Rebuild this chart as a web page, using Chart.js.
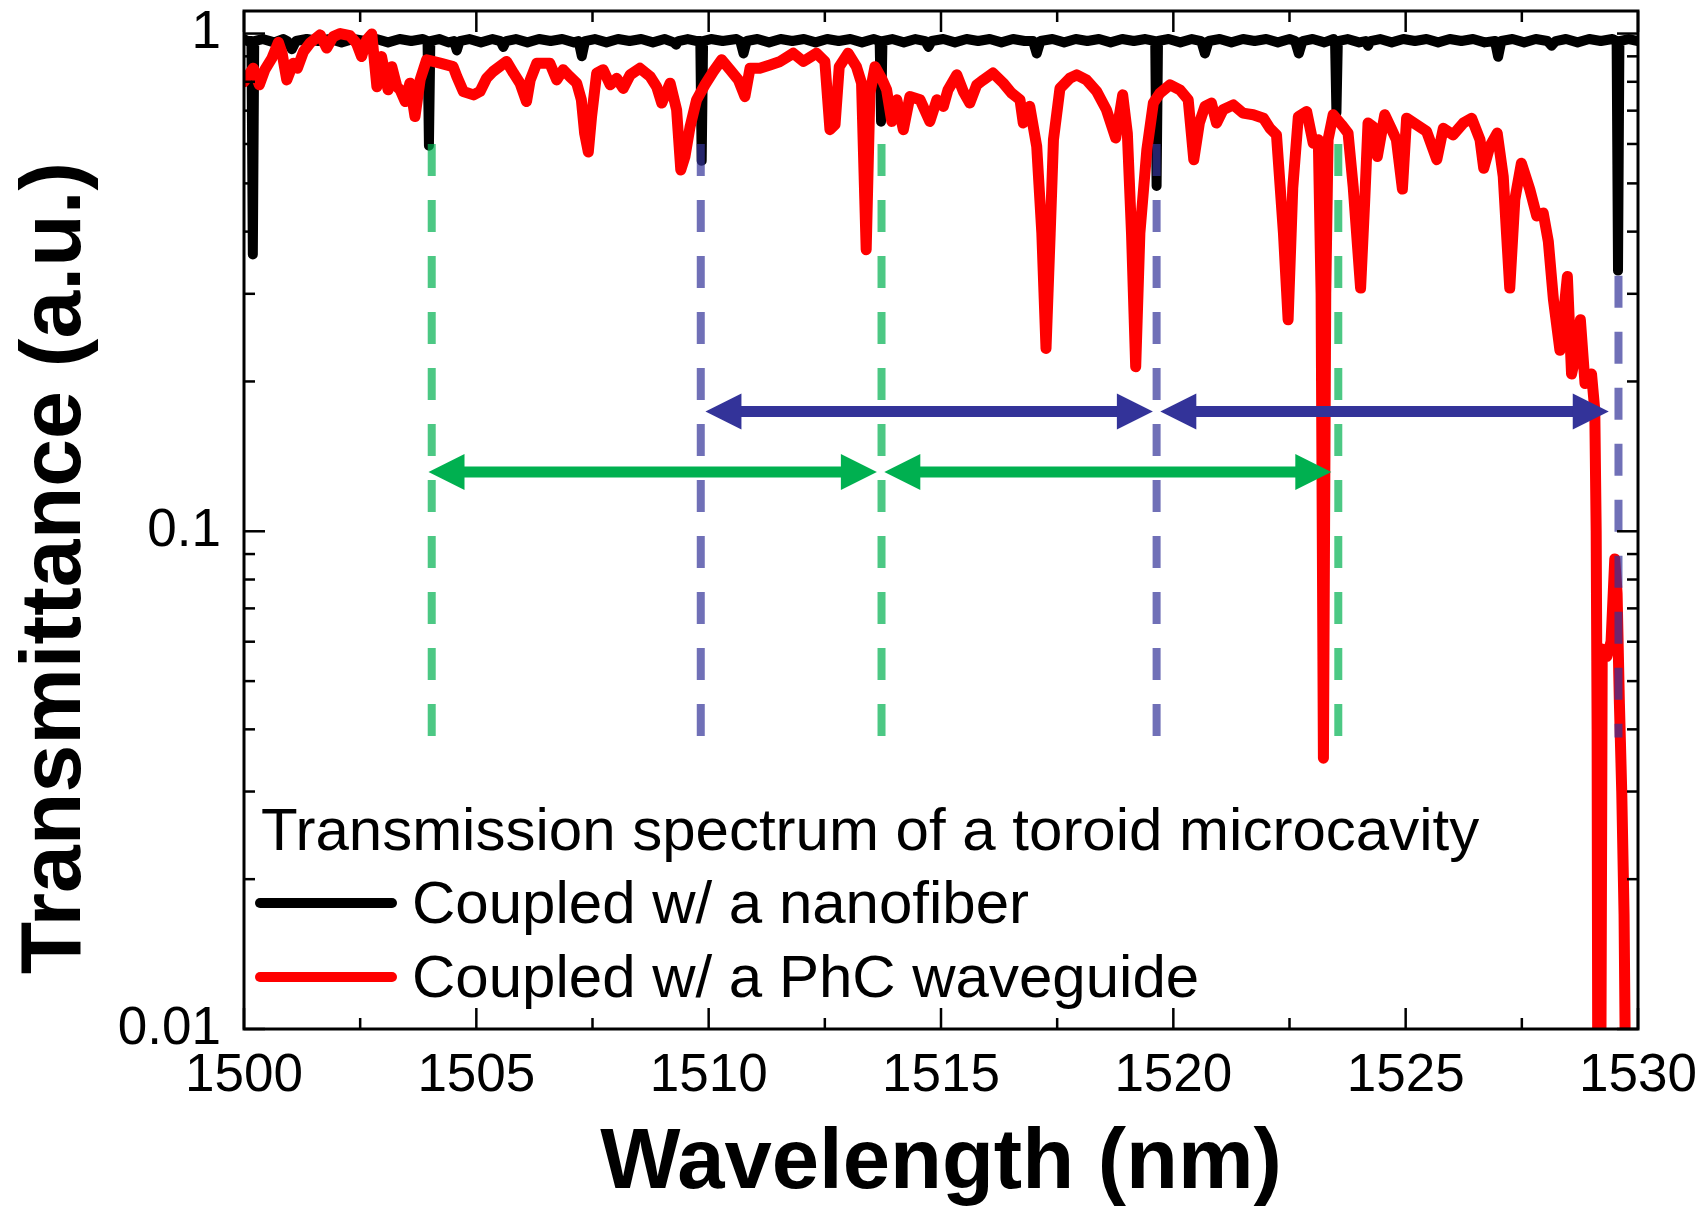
<!DOCTYPE html>
<html>
<head>
<meta charset="utf-8">
<script src="https://cdn.jsdelivr.net/npm/chart.js@4.4.1/dist/chart.umd.min.js"></script>
<style>
html,body{margin:0;padding:0;background:#ffffff;}
canvas{display:block;}
</style>
</head>
<body>
<canvas id="chart" width="1706" height="1207"></canvas>
<script>
// ---------------- DATA ----------------
const legendTitle = 'Transmission spectrum of a toroid microcavity';
const xAxisTitle = 'Wavelength (nm)';
const yAxisTitle = 'Transmittance (a.u.)';

// Coupled w/ a nanofiber (black)
const wavelengthNanofiber = [
  1500.00,1500.08,1500.16,1500.19,1500.22,1500.40,1500.65,1500.85,1500.93,1501.03,1501.12,
  1501.35,1501.60,1501.85,1502.10,1502.35,1502.60,1502.85,1503.10,1503.35,1503.60,1503.85,
  1503.95,1503.98,1504.01,
  1504.20,1504.40,1504.52,1504.58,1504.64,1504.85,1505.10,1505.35,1505.52,1505.58,1505.64,
  1505.85,1506.10,1506.35,1506.60,1506.85,1507.10,1507.20,1507.27,1507.34,1507.55,1507.80,
  1508.05,1508.30,1508.55,1508.80,1509.05,1509.25,1509.30,1509.35,1509.55,1509.75,
  1509.82,1509.85,1509.88,
  1510.05,1510.30,1510.60,1510.68,1510.75,1510.82,1511.05,1511.30,1511.55,1511.80,1512.05,
  1512.30,1512.55,1512.80,1513.05,1513.30,1513.55,
  1513.68,1513.71,1513.74,
  1513.95,1514.20,1514.45,1514.66,1514.73,1514.80,1515.05,1515.30,1515.55,1515.80,1516.05,
  1516.30,1516.55,1516.80,1516.98,1517.06,1517.14,1517.40,1517.65,1517.90,1518.15,1518.40,
  1518.65,1518.90,1519.15,1519.40,
  1519.61,1519.64,1519.67,
  1519.90,1520.15,1520.40,1520.60,1520.68,1520.76,1521.00,1521.25,1521.50,1521.75,1522.00,
  1522.25,1522.50,1522.62,1522.70,1522.78,1523.00,1523.25,1523.45,
  1523.48,1523.51,1523.54,
  1523.75,1524.00,1524.14,1524.19,1524.24,1524.45,1524.70,1524.95,1525.20,1525.45,1525.70,
  1525.95,1526.20,1526.45,1526.70,1526.92,1526.99,1527.06,1527.30,1527.55,1527.80,1528.05,
  1528.14,1528.23,1528.45,1528.70,1528.95,1529.20,1529.45,
  1529.54,1529.57,1529.60,
  1529.80,1530.00
];
const transNanofiber = [
  0.975,0.966,0.966,0.360,0.966,0.975,0.960,0.975,0.966,0.930,0.966,
  0.975,0.966,0.975,0.960,0.975,0.966,0.975,0.960,0.975,0.966,0.975,
  0.966,0.595,0.966,
  0.975,0.960,0.966,0.925,0.966,0.975,0.960,0.975,0.966,0.940,0.966,
  0.975,0.960,0.975,0.966,0.975,0.960,0.966,0.900,0.966,0.975,0.960,
  0.975,0.966,0.975,0.960,0.975,0.960,0.950,0.966,0.975,0.966,
  0.966,0.555,0.966,
  0.975,0.966,0.975,0.966,0.912,0.966,0.975,0.960,0.975,0.966,0.975,
  0.960,0.975,0.966,0.975,0.960,0.975,
  0.966,0.665,0.966,
  0.975,0.960,0.975,0.966,0.940,0.966,0.975,0.960,0.975,0.966,0.975,
  0.960,0.975,0.966,0.966,0.912,0.966,0.975,0.960,0.975,0.966,0.975,
  0.960,0.975,0.966,0.975,
  0.966,0.494,0.966,
  0.975,0.960,0.975,0.966,0.912,0.966,0.975,0.960,0.975,0.966,0.975,
  0.960,0.975,0.966,0.912,0.966,0.975,0.960,0.975,
  0.966,0.693,0.966,
  0.975,0.960,0.966,0.945,0.966,0.975,0.960,0.975,0.966,0.975,0.960,
  0.975,0.966,0.975,0.960,0.966,0.898,0.966,0.975,0.960,0.975,0.966,
  0.945,0.966,0.975,0.960,0.975,0.966,0.975,
  0.966,0.334,0.966,
  0.975,0.966
];

// Coupled w/ a PhC waveguide (red)
const wavelengthPhC = [
  1500.00,1500.20,1500.33,1500.45,1500.60,1500.74,1500.82,1500.92,1501.06,1501.15,1501.28,
  1501.42,1501.64,1501.78,1501.92,1502.07,1502.28,1502.42,1502.53,1502.64,1502.75,1502.86,
  1502.96,1503.10,1503.18,1503.29,1503.36,1503.47,1503.57,1503.68,1503.79,1503.93,1504.22,
  1504.50,1504.58,1504.72,1504.94,1505.08,1505.22,1505.36,1505.65,1505.80,1505.94,1506.08,
  1506.16,1506.30,1506.58,1506.73,1506.87,1507.01,1507.16,1507.26,1507.33,1507.41,1507.48,
  1507.59,1507.73,1507.88,1508.02,1508.16,1508.31,1508.52,1508.74,1508.88,1508.99,1509.17,
  1509.31,1509.40,1509.49,1509.60,1509.74,1509.92,1510.10,1510.28,1510.46,1510.64,1510.78,
  1510.89,1511.10,1511.32,1511.54,1511.82,1512.04,1512.32,1512.50,1512.61,1512.72,1512.81,
  1513.00,1513.18,1513.29,1513.39,1513.47,1513.58,1513.72,1513.83,1513.94,1514.05,1514.19,
  1514.33,1514.55,1514.76,1514.91,1515.05,1515.15,1515.34,1515.48,1515.62,1515.77,1515.91,
  1516.12,1516.34,1516.52,1516.70,1516.77,1516.91,1517.06,1517.17,1517.26,1517.35,1517.42,
  1517.56,1517.77,1517.92,1518.13,1518.35,1518.56,1518.76,1518.91,1519.01,1519.10,1519.19,
  1519.28,1519.43,1519.57,1519.71,1519.93,1520.14,1520.32,1520.44,1520.56,1520.68,1520.82,
  1520.93,1521.07,1521.29,1521.50,1521.72,1521.94,1522.08,1522.22,1522.37,1522.47,1522.57,
  1522.69,1522.87,1523.01,1523.12,1523.18,1523.23,1523.28,1523.33,1523.44,1523.62,1523.76,
  1523.87,1524.03,1524.12,1524.19,1524.30,1524.39,1524.55,1524.70,1524.80,1524.93,1525.02,
  1525.23,1525.45,1525.67,1525.81,1526.02,1526.24,1526.42,1526.60,1526.68,1526.81,1526.97,
  1527.10,1527.17,1527.24,1527.35,1527.49,1527.67,1527.82,1527.96,1528.07,1528.18,1528.32,
  1528.48,1528.57,1528.68,1528.76,1528.86,1529.00,1529.07,1529.10,1529.12,1529.14,1529.19,
  1529.23,1529.33,1529.42,1529.50,1529.55,1529.60,1529.65,1529.70,1529.76
];
const transPhC = [
  0.800,0.852,0.789,0.846,0.892,0.960,0.913,0.807,0.872,0.852,0.920,
  0.957,0.994,0.935,0.986,1.000,0.990,0.957,0.899,0.971,0.998,0.782,
  0.899,0.771,0.858,0.782,0.771,0.730,0.795,0.681,0.807,0.886,0.872,
  0.858,0.820,0.765,0.753,0.765,0.813,0.839,0.879,0.833,0.795,0.730,
  0.807,0.872,0.872,0.807,0.846,0.820,0.795,0.736,0.631,0.578,0.681,
  0.833,0.846,0.789,0.813,0.776,0.826,0.852,0.820,0.782,0.725,0.795,
  0.703,0.532,0.566,0.650,0.736,0.789,0.839,0.886,0.846,0.807,0.747,
  0.852,0.852,0.865,0.879,0.913,0.879,0.913,0.879,0.641,0.656,0.858,
  0.913,0.858,0.795,0.368,0.759,0.858,0.813,0.771,0.666,0.736,0.641,
  0.747,0.736,0.666,0.736,0.714,0.770,0.826,0.765,0.725,0.789,0.807,
  0.833,0.795,0.759,0.736,0.661,0.714,0.593,0.397,0.233,0.397,0.612,
  0.776,0.813,0.826,0.807,0.765,0.703,0.617,0.753,0.631,0.397,0.214,
  0.397,0.584,0.725,0.759,0.789,0.771,0.736,0.558,0.661,0.714,0.725,
  0.661,0.703,0.719,0.692,0.687,0.676,0.645,0.626,0.397,0.266,0.489,
  0.681,0.697,0.602,0.612,0.300,0.035,0.300,0.612,0.687,0.656,0.631,
  0.493,0.308,0.464,0.661,0.650,0.566,0.687,0.641,0.612,0.487,0.676,
  0.656,0.636,0.558,0.645,0.626,0.661,0.676,0.612,0.536,0.593,0.631,
  0.516,0.397,0.308,0.464,0.549,0.487,0.430,0.436,0.382,0.292,0.231,
  0.325,0.207,0.231,0.266,0.198,0.207,0.175,0.100,0.040,0.004,0.004,
  0.058,0.056,0.060,0.088,0.075,0.045,0.030,0.017,0.004
];

// Axis ticks
const xTickValues = [1500,1502.5,1505,1507.5,1510,1512.5,1515,1517.5,1520,1522.5,1525,1527.5,1530];
const xTickLabels = ['1500','','1505','','1510','','1515','','1520','','1525','','1530'];
const yTickValues = [0.01,0.02,0.03,0.04,0.05,0.06,0.07,0.08,0.09,0.1,0.2,0.3,0.4,0.5,0.6,0.7,0.8,0.9,1];
const yTickLabels = ['0.01','','','','','','','','','0.1','','','','','','','','','1'];

// FSR markers (dashed guide lines)
const greenDashX = [1504.04, 1513.72, 1523.55];
const greenDashTop = [0.6, 0.6, 0.6];
const blueDashX = [1509.83, 1519.64, 1529.58];
const blueDashTop = [0.6, 0.6, 0.326];
const dashBottom = 0.0385;

// FSR arrows
const blueArrowFrom = [1509.93, 1519.72];
const blueArrowTo = [1519.56, 1529.37];
const blueArrowLevel = 0.174;
const greenArrowFrom = [1503.97, 1513.78];
const greenArrowTo = [1513.62, 1523.40];
const greenArrowLevel = 0.1315;

// ---------------- CHART ----------------
const FONT = "'Liberation Sans', Arial, Helvetica, sans-serif";
const BLUE = '#333399', BLUE_T = 'rgba(51,51,153,0.7)';
const GREEN = '#00b050', GREEN_T = 'rgba(0,176,80,0.7)';
const pts = (xs, ys) => xs.map((x, i) => ({x: x, y: ys[i]}));

const datasets = [];
blueDashX.forEach((x, i) => datasets.push({
  label: 'blue guide ' + (i + 1),
  data: [{x: x, y: blueDashTop[i]}, {x: x, y: dashBottom}],
  borderColor: BLUE_T, borderWidth: 8, borderDash: [32, 24], borderCapStyle: 'butt',
  pointRadius: 0, order: -1, clip: 0
}));
greenDashX.forEach((x, i) => datasets.push({
  label: 'green guide ' + (i + 1),
  data: [{x: x, y: greenDashTop[i]}, {x: x, y: dashBottom}],
  borderColor: GREEN_T, borderWidth: 8, borderDash: [32, 24], borderCapStyle: 'butt',
  pointRadius: 0, order: -1, clip: 0
}));
datasets.push({
  label: 'Coupled w/ a PhC waveguide',
  data: pts(wavelengthPhC, transPhC),
  borderColor: '#ff0000', backgroundColor: '#ff0000', borderWidth: 11,
  borderJoinStyle: 'round', borderCapStyle: 'round', tension: 0,
  pointRadius: 0, order: 0, clip: 0
});
datasets.push({
  label: 'Coupled w/ a nanofiber',
  data: pts(wavelengthNanofiber, transNanofiber),
  borderColor: '#000000', backgroundColor: '#000000', borderWidth: 10,
  borderJoinStyle: 'round', borderCapStyle: 'round', tension: 0,
  pointRadius: 0, order: 1, clip: 0
});

function drawArrow(ctx, xa, xb, y, color) {
  const head = 36, half = 18;
  ctx.strokeStyle = color; ctx.fillStyle = color; ctx.lineWidth = 11; ctx.lineCap = 'butt';
  ctx.beginPath(); ctx.moveTo(xa + head - 2, y); ctx.lineTo(xb - head + 2, y); ctx.stroke();
  ctx.beginPath(); ctx.moveTo(xa, y); ctx.lineTo(xa + head, y - half); ctx.lineTo(xa + head, y + half); ctx.closePath(); ctx.fill();
  ctx.beginPath(); ctx.moveTo(xb, y); ctx.lineTo(xb - head, y - half); ctx.lineTo(xb - head, y + half); ctx.closePath(); ctx.fill();
}

const decor = {
  id: 'decor',
  afterDatasetsDraw(chart) {
    const ctx = chart.ctx, a = chart.chartArea, xs = chart.scales.x, ys = chart.scales.y;
    ctx.save();
    // arrows
    blueArrowFrom.forEach((f, i) => drawArrow(ctx, xs.getPixelForValue(f), xs.getPixelForValue(blueArrowTo[i]), ys.getPixelForValue(blueArrowLevel), BLUE));
    greenArrowFrom.forEach((f, i) => drawArrow(ctx, xs.getPixelForValue(f), xs.getPixelForValue(greenArrowTo[i]), ys.getPixelForValue(greenArrowLevel), GREEN));
    // frame
    ctx.strokeStyle = '#000'; ctx.lineWidth = 3; ctx.lineCap = 'butt';
    ctx.strokeRect(a.left, a.top, a.right - a.left, a.bottom - a.top);
    // inward ticks on all four sides
    ctx.lineWidth = 2.5;
    const seg = (x1, y1, x2, y2) => { ctx.beginPath(); ctx.moveTo(x1, y1); ctx.lineTo(x2, y2); ctx.stroke(); };
    xTickValues.forEach((v, i) => {
      const p = xs.getPixelForValue(v), len = xTickLabels[i] ? 21 : 11;
      seg(p, a.bottom, p, a.bottom - len);
      seg(p, a.top, p, a.top + len);
    });
    yTickValues.forEach((v, i) => {
      const p = ys.getPixelForValue(v), len = yTickLabels[i] ? 21 : 11;
      seg(a.left, p, a.left + len, p);
      seg(a.right, p, a.right - len, p);
    });
    // legend
    ctx.fillStyle = '#000'; ctx.textAlign = 'left'; ctx.textBaseline = 'alphabetic';
    ctx.font = '60px ' + FONT;
    ctx.fillText(legendTitle, a.left + 17, a.bottom - 179);
    const entries = [datasets[datasets.length - 1], datasets[datasets.length - 2]];
    const rows = [a.bottom - 126, a.bottom - 52];
    entries.forEach((ds, i) => {
      ctx.strokeStyle = ds.borderColor; ctx.lineWidth = 10; ctx.lineCap = 'round';
      seg(a.left + 16, rows[i], a.left + 148, rows[i]);
      ctx.fillStyle = '#000';
      ctx.fillText(ds.label, a.left + 168, rows[i] + 20);
    });
    // y axis title
    ctx.save();
    ctx.translate(a.left - 164, (a.top + a.bottom) / 2 + 48);
    ctx.rotate(-Math.PI / 2);
    ctx.textAlign = 'center'; ctx.textBaseline = 'alphabetic';
    ctx.font = 'bold 86px ' + FONT;
    ctx.fillText(yAxisTitle, 0, 0);
    ctx.restore();
    ctx.restore();
  }
};

new Chart(document.getElementById('chart'), {
  type: 'line',
  data: {datasets: datasets},
  options: {
    responsive: false, animation: false, devicePixelRatio: 1, events: [],
    layout: {padding: {top: 11, right: 68, bottom: 0, left: 0}},
    plugins: {legend: {display: false}, tooltip: {enabled: false}, title: {display: false}},
    scales: {
      x: {
        type: 'linear', position: 'bottom', min: 1500, max: 1530,
        afterBuildTicks: s => { s.ticks = xTickValues.map(v => ({value: v})); },
        afterFit: s => { s.height = 178; s.paddingLeft = 0; s.paddingRight = 0; },
        grid: {display: false, drawTicks: false}, border: {display: false},
        ticks: {autoSkip: false, maxRotation: 0, minRotation: 0, padding: 16, color: '#000',
          font: {family: FONT, size: 53, lineHeight: 1.2},
          callback: (v, i) => xTickLabels[i]},
        title: {display: true, text: xAxisTitle, color: '#000',
          font: {family: FONT, size: 85, weight: 'bold', lineHeight: 1},
          padding: {top: 0, bottom: 0}}
      },
      y: {
        type: 'logarithmic', position: 'left', min: 0.01, max: 1.11,
        afterBuildTicks: s => { s.ticks = yTickValues.map(v => ({value: v})); },
        afterFit: s => { s.width = 244; s.paddingTop = 0; s.paddingBottom = 0; },
        grid: {display: false, drawTicks: false}, border: {display: false},
        ticks: {autoSkip: false, padding: 23, color: '#000',
          font: {family: FONT, size: 53, lineHeight: 1.2},
          callback: (v, i) => yTickLabels[i]}
      }
    }
  },
  plugins: [decor]
});
</script>
</body>
</html>
